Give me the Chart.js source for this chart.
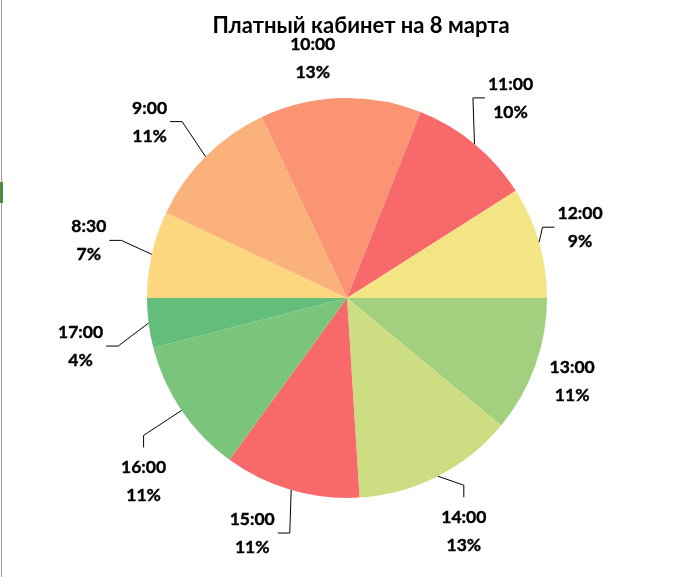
<!DOCTYPE html>
<html>
<head>
<meta charset="utf-8">
<script src="https://cdn.jsdelivr.net/npm/chart.js@4"></script>
<style>
  body { margin: 0; background: #fff; }
  #wrap { position: relative; width: 677px; height: 577px; }
  #edge { position: absolute; left: 1px; top: 0; width: 1px; height: 577px; background: #9a9a9a; }
  #edgeMark { position: absolute; left: 0; top: 182px; width: 3px; height: 21px; background: #4e8a3c; }
</style>
</head>
<body>
<div id="wrap">
  <canvas id="myChart" width="677" height="577"></canvas>
  <div id="edge"></div>
  <div id="edgeMark"></div>
</div>
<script>
const chartTitle = 'Платный кабинет на 8 марта';
const timeSlots = ['8:30', '9:00', '10:00', '11:00', '12:00', '13:00', '14:00', '15:00', '16:00', '17:00'];
const visitShare = [7, 11, 13, 10, 9, 11, 13, 11, 11, 4];
const sliceColors = ['#FDD780', '#FBB27A', '#FA9473', '#F8696B', '#F4E584',
                     '#A2D07F', '#CCDD82', '#F8696B', '#7AC47C', '#63BE7B'];

// label placement relative to the slice's outer midpoint, and leader style
const labelShift = [[-63, -14], [-56, -35], [-28, -40], [36, -46], [41, -15],
                    [37, 15], [26, 55], [-39, 43], [-38, 71], [-68, 23]];
const leaderKind = ['h', 'h', '', 'h', 'h', '', 'v', 'h', 'v', 'h'];

const labelFont = 'bold 17.5px Lato';

const pieLabels = {
  id: 'pieLabels',
  afterDraw(chart) {
    const ctx = chart.ctx;
    const meta = chart.getDatasetMeta(0);
    const total = visitShare.reduce((a, b) => a + b, 0);

    ctx.save();
    ctx.fillStyle = '#000';
    ctx.font = 'bold 22px Lato';
    ctx.textAlign = 'center';
    ctx.textBaseline = 'alphabetic';
    ctx.fillText(chartTitle, 361, 33);

    ctx.font = labelFont;
    ctx.lineWidth = 0.4;
    ctx.strokeStyle = '#000';
    meta.data.forEach((arc, i) => {
      const p = arc.getProps(['x', 'y', 'startAngle', 'endAngle', 'outerRadius'], true);
      const mid = (p.startAngle + p.endAngle) / 2;
      const ax = p.x + Math.cos(mid) * p.outerRadius;
      const ay = p.y + Math.sin(mid) * p.outerRadius;
      const cx = ax + labelShift[i][0];
      const cy = ay + labelShift[i][1];
      const pct = Math.round(visitShare[i] / total * 100) + '%';

      ctx.fillText(timeSlots[i], cx, cy - 14 + 6);
      ctx.fillText(pct, cx, cy + 14 + 6);
      ctx.strokeText(timeSlots[i], cx, cy - 14 + 6);
      ctx.strokeText(pct, cx, cy + 14 + 6);

      const half = Math.max(ctx.measureText(timeSlots[i]).width, ctx.measureText(pct).width) / 2;
      let sx, sy, ex, ey;
      if (leaderKind[i] === 'h') {
        const dir = ax < cx ? -1 : 1;
        sx = cx + dir * (half + 3);
        sy = cy;
        ex = sx + dir * 12;
        ey = sy;
      } else if (leaderKind[i] === 'v') {
        sx = cx;
        sy = cy - 34;
        ex = sx;
        ey = sy - 12;
      } else {
        return;
      }
      ctx.save();
      ctx.lineWidth = 1;
      ctx.beginPath();
      ctx.moveTo(sx, sy);
      ctx.lineTo(ex, ey);
      ctx.lineTo(ax, ay);
      ctx.stroke();
      ctx.restore();
    });
    ctx.restore();
  }
};

new Chart(document.getElementById('myChart'), {
  type: 'pie',
  data: {
    labels: timeSlots,
    datasets: [{
      data: visitShare,
      backgroundColor: sliceColors,
      borderWidth: 0,
      hoverOffset: 0,
      offset: 0
    }]
  },
  options: {
    responsive: false,
    animation: false,
    rotation: -90,
    layout: { padding: { left: 147, right: 130, top: 98, bottom: 79 } },
    plugins: {
      legend: { display: false },
      tooltip: { enabled: false },
      title: { display: false }
    }
  },
  plugins: [pieLabels]
});
</script>
</body>
</html>
